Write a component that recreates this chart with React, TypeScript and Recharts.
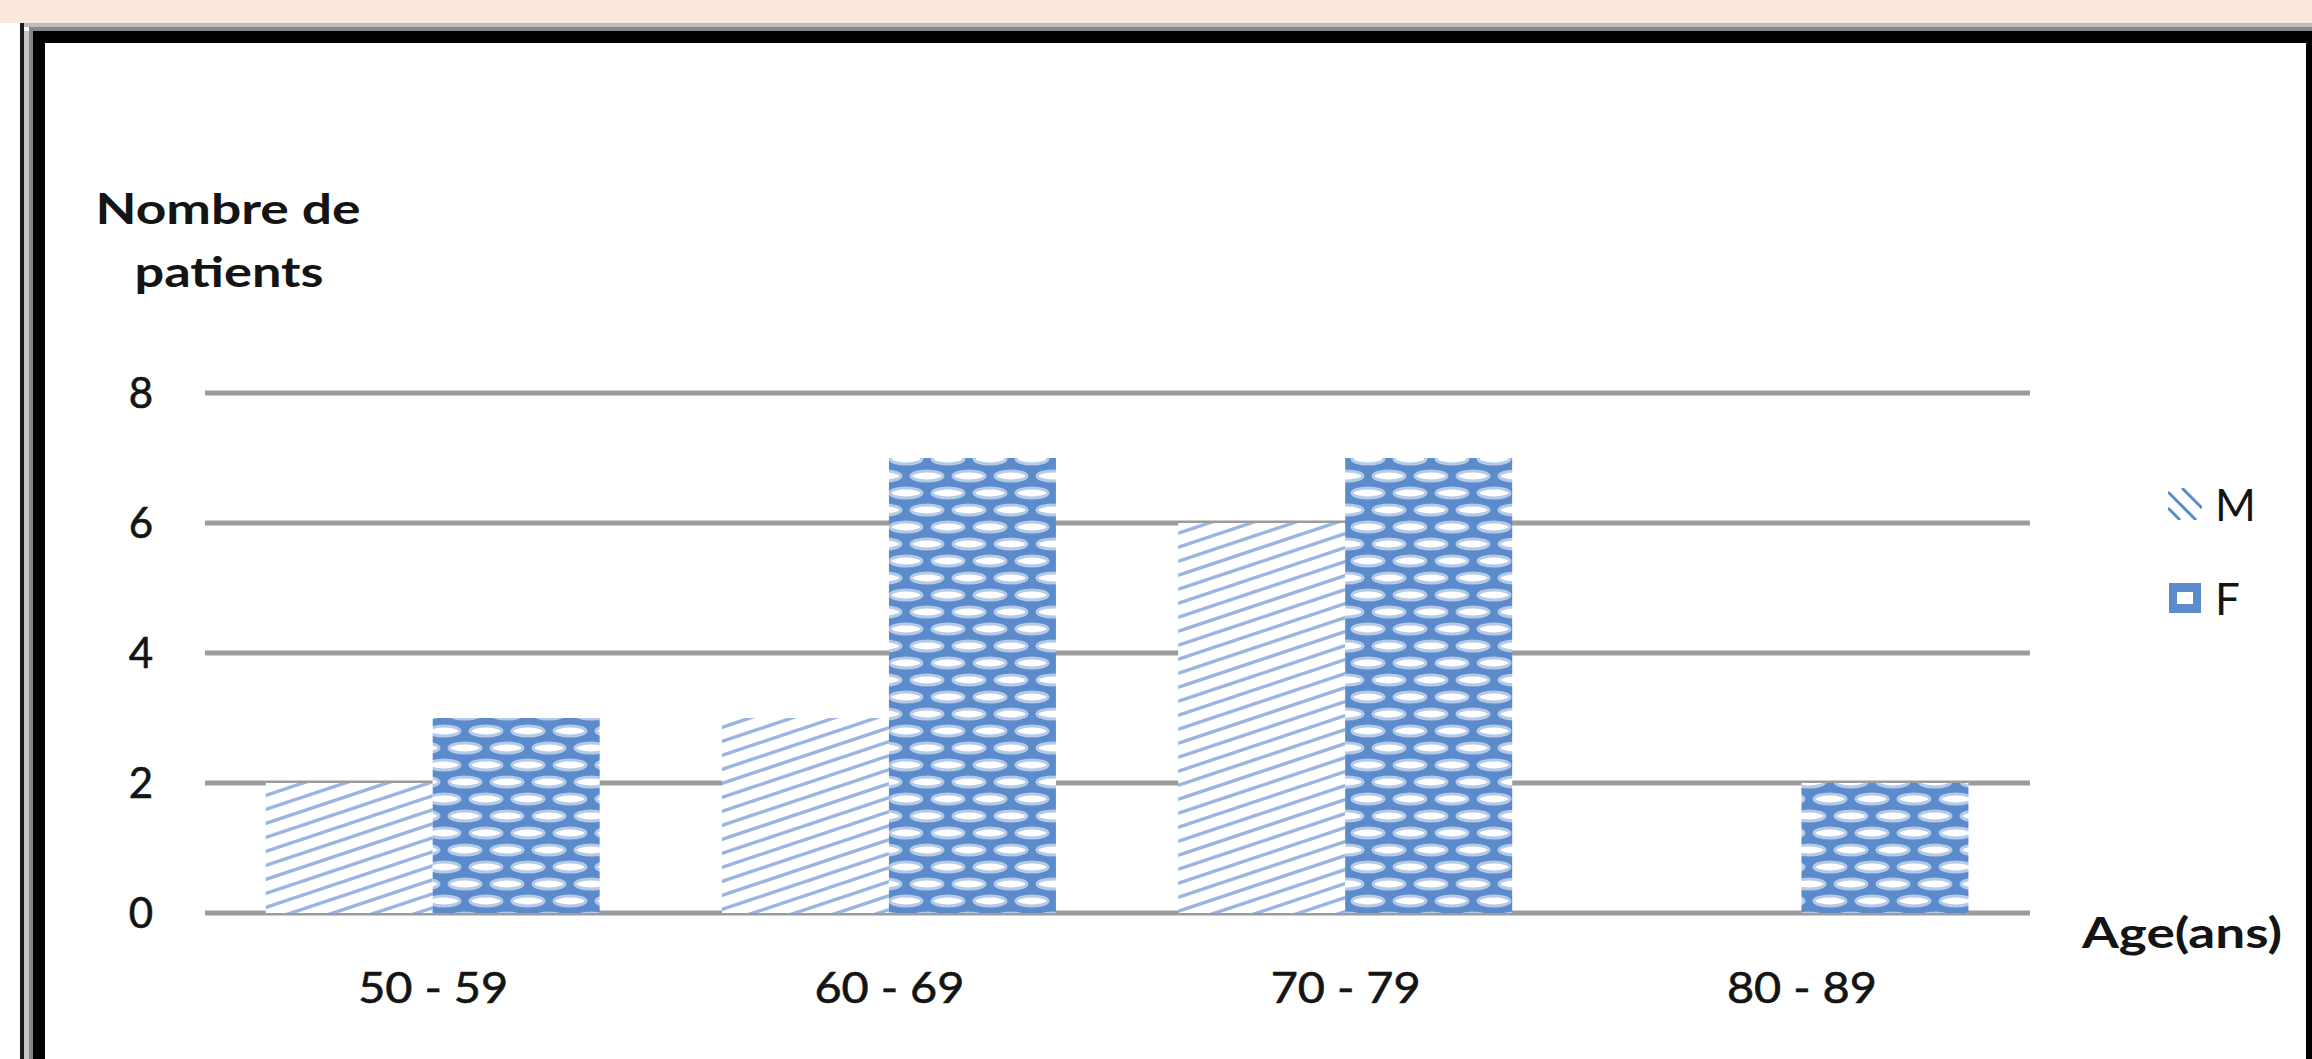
import React from 'react';
import { BarChart, Bar, XAxis, YAxis, CartesianGrid, Legend } from 'recharts';

const categories = ['50 - 59', '60 - 69', '70 - 79', '80 - 89'];
const maleValues = [2, 3, 6, 0];
const femaleValues = [3, 7, 7, 2];
const yTicks = [0, 2, 4, 6, 8];
const seriesNames = ['M', 'F'];
const yTitleLines = ['Nombre  de', 'patients'];
const xTitle = 'Age(ans)';

const data = categories.map((c, i) => ({ age: c, M: maleValues[i], F: femaleValues[i] }));

const TEXT = '#141414';
const FONT = 'Lato, "Liberation Sans", sans-serif';

const XTick = (props: any) => {
  const { x, y, payload } = props;
  return (
    <text x={x} y={y} dy="0.71em" textAnchor="middle" fontFamily={FONT} fontSize={42} fill={TEXT}
      stroke={TEXT} strokeWidth={0.6} textLength={150} lengthAdjust="spacingAndGlyphs">
      {payload.value}
    </text>
  );
};

const YTick = (props: any) => {
  const { x, y, payload } = props;
  return (
    <text x={x} y={y} dy="0.36em" textAnchor="end" fontFamily={FONT} fontSize={42} fill={TEXT}
      stroke={TEXT} strokeWidth={0.6}>
      {payload.value}
    </text>
  );
};

const YTitle = (props: any) => {
  const vb = props.viewBox;
  return (
    <g>
      <text x={vb.x + 183} y={vb.y - 169} textAnchor="middle" fontFamily={FONT} fontWeight={700} fontSize={42} fill={TEXT}
        textLength={265} lengthAdjust="spacingAndGlyphs">{yTitleLines[0]}</text>
      <text x={vb.x + 184} y={vb.y - 106} textAnchor="middle" fontFamily={FONT} fontWeight={700} fontSize={42} fill={TEXT}
        textLength={189} lengthAdjust="spacingAndGlyphs">{yTitleLines[1]}</text>
    </g>
  );
};

const XTitle = (props: any) => {
  const vb = props.viewBox;
  return (
    <text x={vb.x + vb.width + 52} y={vb.y + 35} textAnchor="start" fontFamily={FONT} fontWeight={700} fontSize={42} fill={TEXT}
      textLength={200} lengthAdjust="spacingAndGlyphs">{xTitle}</text>
  );
};

const LegendIcon = ({ name }: { name: string }) => (
  <svg width={34} height={32} style={{ display: 'block' }}>
    {name === 'M' ? (
      <g stroke="#5B8BCB" strokeWidth={3}>
        <path d="M14,0 L34,20" />
        <path d="M0,4 L28,32" />
        <path d="M0,20 L12,32" />
      </g>
    ) : (
      <g>
        <rect x={1} y={1} width={32} height={30} fill="#5B8BCB" />
        <rect x={9} y={10} width={16} height={12} fill="#fff" />
      </g>
    )}
  </svg>
);

const renderLegend = () => (
  <div style={{ display: 'flex', flexDirection: 'column' }}>
    {seriesNames.map((n, i) => (
      <div key={n} style={{ display: 'flex', alignItems: 'center', height: 62, marginBottom: i === 0 ? 32 : 0 }}>
        <LegendIcon name={n} />
        <span style={{ marginLeft: 13, fontFamily: FONT, fontSize: 44, color: TEXT, lineHeight: '44px' }}>{n}</span>
      </div>
    ))}
  </div>
);

export default function App() {
  return (
    <div style={{ position: 'fixed', left: 0, top: 0, width: 2312, height: 1059, background: '#fff', overflow: 'hidden' }}>
      <svg width={0} height={0} style={{ position: 'absolute' }}>
        <defs>
          <pattern id="patM" patternUnits="userSpaceOnUse" width={42} height={14}>
            <rect width={42} height={14} fill="#fff" />
            <g stroke="#9AB6E0" strokeWidth={3.5}>
              <path d="M-42,28 L84,-14" />
              <path d="M-42,14 L42,-14" />
              <path d="M0,28 L84,0" />
            </g>
          </pattern>
          <pattern id="patF" patternUnits="userSpaceOnUse" width={84} height={34}>
            <rect width={84} height={34} fill="#5B8BCB" />
            <g fill="#fff" stroke="#B4CAE8" strokeWidth={3}>
              <ellipse cx={21} cy={8} rx={16} ry={5} />
              <ellipse cx={63} cy={8} rx={16} ry={5} />
              <ellipse cx={0} cy={25} rx={16} ry={5} />
              <ellipse cx={42} cy={25} rx={16} ry={5} />
              <ellipse cx={84} cy={25} rx={16} ry={5} />
            </g>
          </pattern>
        </defs>
      </svg>
      <div style={{ position: 'absolute', left: 0, top: 0, width: 2312, height: 23, background: '#FDE9DB' }} />
      <div style={{ position: 'absolute', left: 20, top: 23, width: 4, height: 1036, background: '#1c1c1c' }} />
      <div style={{ position: 'absolute', left: 24, top: 31, width: 5, height: 1028, background: '#C6C6C6' }} />
      <div style={{ position: 'absolute', left: 29, top: 31, width: 4, height: 1028, background: '#868686' }} />
      <div style={{ position: 'absolute', left: 24, top: 23, width: 2288, height: 4, background: '#BDBDBD' }} />
      <div style={{ position: 'absolute', left: 29, top: 27, width: 2283, height: 4, background: '#878787' }} />
      <div style={{ position: 'absolute', left: 33, top: 31, width: 2279, height: 12, background: '#000' }} />
      <div style={{ position: 'absolute', left: 33, top: 31, width: 12, height: 1028, background: '#000' }} />
      <div style={{ position: 'absolute', left: 2306, top: 31, width: 6, height: 1028, background: '#000' }} />
      <div style={{ position: 'absolute', left: 45, top: 43 }}>
        <BarChart width={2261} height={1016} data={data} margin={{ top: 350, right: 276, bottom: 46, left: 0 }}
          barCategoryGap="13.3%" barGap={0}>
          <CartesianGrid horizontal vertical={false} stroke="#9C9C9C" strokeWidth={5} />
          <XAxis dataKey="age" axisLine={false} tickLine={false} tickSize={0} tickMargin={60} height={100}
            tick={<XTick />} interval={0} label={<XTitle />} />
          <YAxis domain={[0, 8]} ticks={yTicks} axisLine={false} tickLine={false} tickSize={0} tickMargin={52}
            width={160} tick={<YTick />} label={<YTitle />} />
          <Legend layout="vertical" align="center" verticalAlign="middle" content={renderLegend}
            wrapperStyle={{ position: 'absolute', left: 2123, top: 430, width: 140 }} />
          <Bar dataKey="M" name="M" fill="url(#patM)" isAnimationActive={false} />
          <Bar dataKey="F" name="F" fill="url(#patF)" isAnimationActive={false} />
        </BarChart>
      </div>
    </div>
  );
}
